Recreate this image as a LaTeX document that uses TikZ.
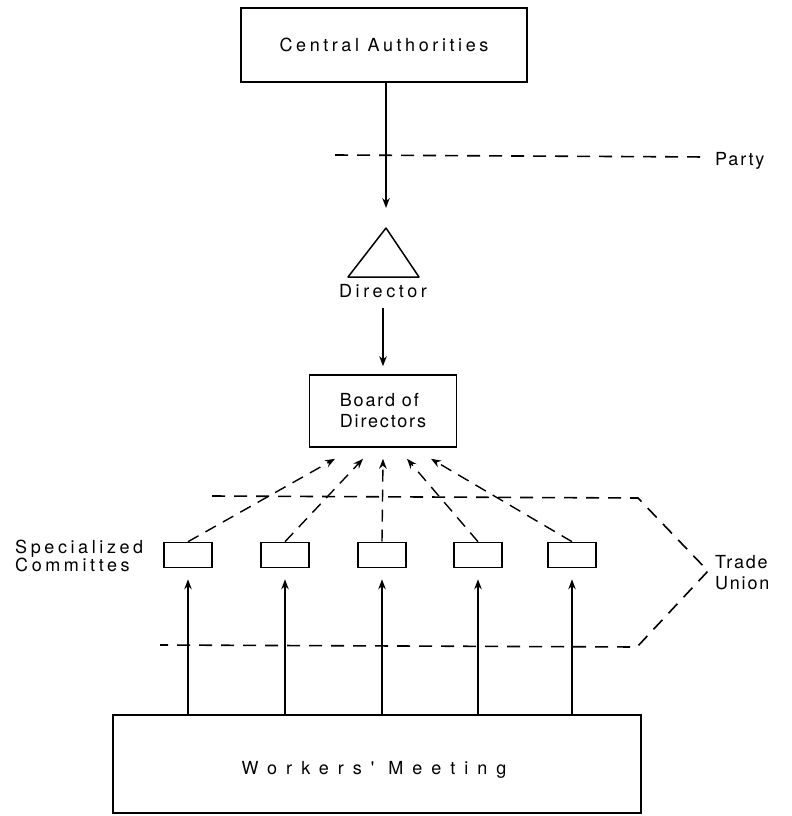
\documentclass[tikz,border=0pt]{standalone}
\usepackage{fontspec}
\setmainfont{TeX Gyre Heros}
\newfontfamily\labelfont[LetterSpace=10]{TeX Gyre Heros}
\newfontfamily\spreadfont[LetterSpace=20]{TeX Gyre Heros}
\newfontfamily\widefont[LetterSpace=50]{TeX Gyre Heros}
\usetikzlibrary{arrows.meta,positioning,calc}

\tikzset{
    txt/.style={font=\fontsize{18bp}{21bp}\labelfont, inner sep=0pt},
    spreadtxt/.style={font=\fontsize{18bp}{21bp}\spreadfont, inner sep=0pt},
    box/.style={draw, line width=1.6bp, inner sep=0pt},
    cbox/.style={box, minimum width=48bp, minimum height=25bp},
    solidarrow/.style={line width=1.4bp, -{Stealth[length=10bp,width=7.5bp]}},
    dasharrow/.style={solidarrow, dash pattern=on 12bp off 8bp},
    dashline/.style={line width=1.6bp, dash pattern=on 13bp off 9bp}
}

\begin{document}
\begin{tikzpicture}[x=1bp, y=-1bp]
    \useasboundingbox (0,0) rectangle (792,816);

    % ---------------- Top: central authorities and party ----------------
    \node[box, spreadtxt, minimum width=286bp, minimum height=74bp] (central) at (384,45) {Central Authorities};
    \draw[dashline] (335,155) -- (707,157);
    \node[txt, anchor=west] (party) at (715,161) {Party};

    % ---------------- Director ----------------
    \coordinate (apex) at (386,228);
    \draw[line width=1.5bp, line join=round] (apex) -- (419,277) -- (348,277) -- cycle;
    \node[spreadtxt] (director) at (383,291) {Director};
    \draw[solidarrow, shorten >=20bp] (central.south -| apex) -- (apex);

    % ---------------- Board of directors ----------------
    \node[box, txt, align=left, minimum width=147bp, minimum height=72bp] (board) at (383,411) {Board of\\Directors};
    \draw[solidarrow, shorten <=10bp, shorten >=8bp] (director.south -| board) -- (board.north);

    % ---------------- Specialized committees ----------------
    \foreach \x [count=\i] in {188,285,382,478,572} {
        \node[cbox] (c\i) at (\x,555) {};
    }
    \node[font=\fontsize{18bp}{17bp}\spreadfont, inner sep=0pt, align=left, anchor=west] (spec) at (15,556) {Specialized\\Committes};

    \foreach \i/\dx in {1/-48,2/-20,3/0,4/24,5/48} {
        \coordinate (t\i) at ($(board.south)+(\dx,11)$);
        \draw[dasharrow] (c\i.north) -- (t\i);
    }

    % ---------------- Trade union ----------------
    \draw[dashline] (212,496) -- (638,498) -- (708,571) -- (637,647) -- (160,645);
    \node[txt, align=left, anchor=west] (union) at (715,573) {Trade\\Union};

    % ---------------- Workers' meeting ----------------
    \node[box, minimum width=528bp, minimum height=98bp] (workers) at (377,764) {};
    \node[font=\fontsize{18bp}{21bp}\widefont, inner sep=0pt] (wtext) at (374,770) {Workers' Meeting};
    \foreach \i in {1,...,5} {
        \draw[solidarrow, shorten >=11bp] (workers.north -| c\i) -- (c\i.south);
    }

\end{tikzpicture}
\end{document}
